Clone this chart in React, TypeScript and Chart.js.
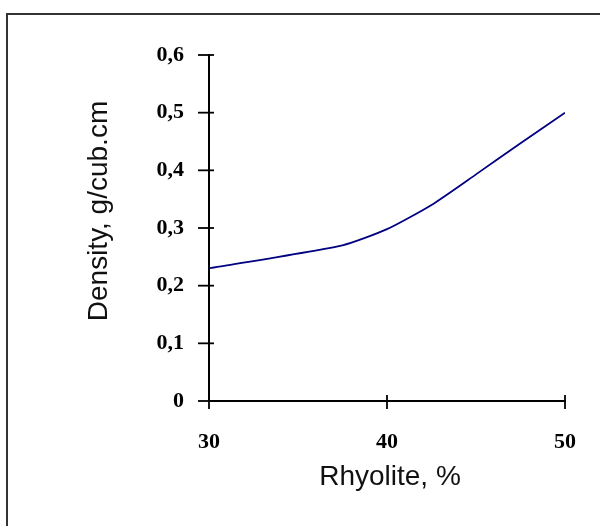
import React, { useEffect, useRef } from "react";
import { Chart, registerables } from "chart.js";

Chart.register(...registerables);

const rhyolite: number[] = [30, 37.5, 40, 42.5, 45, 47.5, 50];
const density: number[] = [0.23, 0.27, 0.298, 0.34, 0.393, 0.447, 0.5];
const xTitle = "Rhyolite, %";
const yTitle = "Density, g/cub.cm";

const crossTicks = {
  id: "crossTicks",
  afterDraw(chart: any) {
    const ctx = chart.ctx;
    const xs = chart.scales.x;
    const ys = chart.scales.y;
    const area = chart.chartArea;
    ctx.save();
    ctx.strokeStyle = "#000";
    ctx.lineWidth = 1.8;
    ys.ticks.forEach((t: any) => {
      const py = ys.getPixelForValue(t.value);
      ctx.beginPath();
      ctx.moveTo(area.left - 11, py);
      ctx.lineTo(area.left + 5, py);
      ctx.stroke();
    });
    xs.ticks.forEach((t: any) => {
      const px = xs.getPixelForValue(t.value);
      ctx.beginPath();
      ctx.moveTo(px, area.bottom - 6);
      ctx.lineTo(px, area.bottom + 8);
      ctx.stroke();
    });
    // axis titles
    ctx.fillStyle = "#111";
    ctx.font = '28px "Liberation Sans", Arial, sans-serif';
    ctx.textAlign = "center";
    ctx.textBaseline = "alphabetic";
    ctx.fillText(xTitle, (area.left + area.right) / 2 + 3, 485);
    ctx.translate(107, 211);
    ctx.rotate(-Math.PI / 2);
    ctx.fillText(yTitle, 0, 0);
    ctx.restore();
  },
};

export default function App() {
  const ref = useRef<HTMLCanvasElement>(null);
  useEffect(() => {
    if (!ref.current) return;
    const chart = new Chart(ref.current, {
      type: "line",
      data: {
        datasets: [
          {
            data: rhyolite.map((x, i) => ({ x, y: density[i] })),
            borderColor: "#000080",
            borderWidth: 1.8,
            pointRadius: 0,
            tension: 0.2,
            fill: false,
          },
        ],
      },
      options: {
        animation: false,
        responsive: false,
        devicePixelRatio: 1,
        layout: { padding: { left: 0, top: 55, right: 35, bottom: 0 } },
        plugins: { legend: { display: false }, tooltip: { enabled: false } },
        scales: {
          x: {
            type: "linear",
            min: 30,
            max: 50,
            afterFit: (s: any) => {
              s.height = 125;
              s.paddingLeft = 0;
              s.paddingRight = 0;
            },
            ticks: {
              stepSize: 10,
              padding: 28,
              color: "#000",
              font: { family: '"Liberation Serif", "Times New Roman", serif', size: 22, weight: "bold" },
              callback: (v: any) => String(v),
            },
            grid: { drawOnChartArea: false, drawTicks: false },
            border: { display: true, color: "#000", width: 2 },
          },
          y: {
            type: "linear",
            min: 0,
            max: 0.6,
            afterFit: (s: any) => {
              s.width = 209;
              s.paddingTop = 0;
              s.paddingBottom = 0;
            },
            ticks: {
              stepSize: 0.1,
              padding: 25,
              color: "#000",
              font: { family: '"Liberation Serif", "Times New Roman", serif', size: 22, weight: "bold" },
              callback: (v: any) => (Math.abs(v) < 1e-9 ? "0" : Number(v).toFixed(1).replace(".", ",")),
            },
            grid: { drawOnChartArea: false, drawTicks: false },
            border: { display: true, color: "#000", width: 2 },
          },
        },
      },
      plugins: [crossTicks],
    });
    return () => chart.destroy();
  }, []);
  return (
    <div
      style={{
        position: "fixed",
        left: 0,
        top: 0,
        width: 600,
        height: 526,
        overflow: "hidden",
        background: "#fff",
      }}
    >
      <div
        style={{
          position: "absolute",
          left: 6,
          top: 13,
          width: 700,
          height: 700,
          border: "2px solid #333",
        }}
      />
      <canvas ref={ref} width={600} height={526} style={{ position: "absolute", left: 0, top: 0 }} />
    </div>
  );
}
